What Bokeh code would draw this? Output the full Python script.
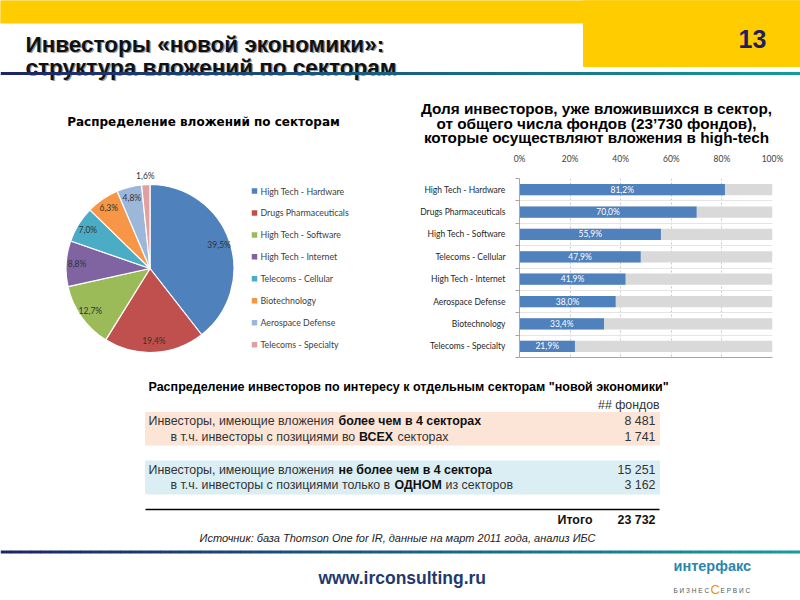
import math
from bokeh.plotting import figure
from bokeh.layouts import column, row
from bokeh.models import (Range1d, FixedTicker, LinearAxis, PrintfTickFormatter,
                          LabelSet, ColumnDataSource)
from bokeh.core.properties import value
from bokeh.embed import file_html
from bokeh.resources import INLINE

# ---------------- data ----------------
slide_title = ["Инвесторы «новой экономики»:", "структура вложений по секторам"]
slide_number = "13"

pie_title = "Распределение вложений по секторам"
pie_sectors = ["High Tech - Hardware", "Drugs Pharmaceuticals", "High Tech - Software",
               "High Tech - Internet", "Telecoms - Cellular", "Biotechnology",
               "Aerospace Defense", "Telecoms - Specialty"]
pie_shares = [39.5, 19.4, 12.7, 8.8, 7.0, 6.3, 4.8, 1.6]
pie_colors = ["#4F81BD", "#C0504D", "#9BBB59", "#8064A2", "#4BACC6", "#F79646",
              "#9DB7DB", "#E0A09E"]

bar_title = ["Доля инвесторов, уже вложившихся в сектор,",
             "от общего числа фондов (23’730 фондов),",
             "которые осуществляют вложения в high-tech"]
bar_sectors = ["High Tech - Hardware", "Drugs Pharmaceuticals", "High Tech - Software",
               "Telecoms - Cellular", "High Tech - Internet", "Aerospace Defense",
               "Biotechnology", "Telecoms - Specialty"]
bar_values = [81.2, 70.0, 55.9, 47.9, 41.9, 38.0, 33.4, 21.9]
bar_ticks = [0, 20, 40, 60, 80, 100]

table_title = 'Распределение инвесторов по интересу к отдельным секторам "новой экономики"'
table_unit = "## фондов"
row_plain = ["Инвесторы, имеющие вложения", "в т.ч. инвесторы с позициями во",
             "Инвесторы, имеющие вложения", "в т.ч. инвесторы с позициями только в"]
row_bold = ["более чем в 4 секторах", "ВСЕХ", "не более чем в 4 сектора", "ОДНОМ"]
row_tail = ["", "секторах", "", "из секторов"]
row_values = ["8 481", "1 741", "15 251", "3 162"]
total_label = "Итого"
total_value = "23 732"
source_note = "Источник: база Thomson One for IR, данные на март 2011 года, анализ ИБС"
site_url = "www.irconsulting.ru"
logo_top = "интерфакс"
logo_bottom = ["Б И З Н Е С", "С", "Е Р В И С"]

# ---------------- helpers ----------------
ARIAL = "Liberation Sans"
CHART = "Lato"


def txt(p, x, y, s, size, color="#000000", style="normal", align="left",
        font=ARIAL, baseline="middle"):
    p.text(x=[x], y=[y], text=[s], text_font=value(font),
           text_font_size=f"{size}px", text_font_style=style, text_color=color,
           text_align=align, text_baseline=baseline)


def hex2rgb(h):
    h = h.lstrip("#")
    return tuple(int(h[i:i + 2], 16) for i in (0, 2, 4))


def grad_rule(p, x0, x1, y, c0, c1, w=3, n=80):
    a, b = hex2rgb(c0), hex2rgb(c1)
    xs0, xs1, cols = [], [], []
    for k in range(n):
        t = k / (n - 1)
        xs0.append(x0 + (x1 - x0) * k / n)
        xs1.append(x0 + (x1 - x0) * (k + 1) / n + 0.6)
        cols.append("#%02x%02x%02x" % tuple(int(a[j] + (b[j] - a[j]) * t) for j in range(3)))
    p.segment(x0=xs0, x1=xs1, y0=[y] * n, y1=[y] * n, line_color=cols, line_width=w)


def blank(width, height, xr, yr):
    f = figure(width=width, height=height, x_range=xr, y_range=yr,
               output_backend="svg", toolbar_location=None, min_border=0,
               x_axis_location=None, y_axis_location=None,
               outline_line_color=None, background_fill_color="white",
               border_fill_color="white")
    f.grid.visible = False
    f.frame_align = False
    return f


# ---------------- header (page y 0..150) ----------------
hdr = blank(800, 150, Range1d(0, 800), Range1d(150, 0))
hdr.quad(left=0, right=800, top=0, bottom=22.5, color="#FFCC00")
hdr.quad(left=583, right=800, top=0, bottom=66, color="#FFCC00")
for i, s in enumerate(slide_title):
    yy = 44 + 23 * i
    txt(hdr, 26.3, yy + 1.3, s, 22.5, color="#9A9A9A", style="bold")
    txt(hdr, 25, yy, s, 22.5, color="#111111", style="bold")
grad_rule(hdr, 0, 800, 73, "#1D2566", "#169C9C", w=3)
txt(hdr, 752, 38, slide_number, 25, color="#1F1F66", style="bold", align="center")
txt(hdr, 203, 121, pie_title, 12, color="#000000", style="bold", align="center",
    font="DejaVu Sans")
for i, s in enumerate(bar_title):
    txt(hdr, 596, 108 + 14.5 * i, s, 15.3, color="#000000", style="bold", align="center")

# ---------------- middle row (page y 150..372) ----------------
# pie (page x 0..400), frame covers the whole figure
CX, CY, R = 149.5, 268.0, 84.0
pie = blank(400, 222, Range1d(0 - CX, 400 - CX), Range1d(CY - 372, CY - 150))
total = sum(pie_shares)
starts, ends, mids = [], [], []
cum = 0.0
for s in pie_shares:
    a0 = math.pi / 2 - 2 * math.pi * cum / total
    cum += s
    a1 = math.pi / 2 - 2 * math.pi * cum / total
    starts.append(a0)
    ends.append(a1)
    mids.append((a0 + a1) / 2)
pie.wedge(x=0, y=0, radius=R, start_angle=starts, end_angle=ends, direction="clock",
          fill_color=pie_colors, line_color="white", line_width=1.2)
lab_r = [R * (0.87 if s > 3 else 1.1) for s in pie_shares]
lab_src = ColumnDataSource(dict(
    x=[r * math.cos(m) for r, m in zip(lab_r, mids)],
    y=[r * math.sin(m) for r, m in zip(lab_r, mids)],
    t=[f"{s:.1f}".replace(".", ",") + "%" for s in pie_shares]))
pie.add_layout(LabelSet(x="x", y="y", text="t", source=lab_src,
                        text_font=value(CHART), text_font_size=value("8.5px"),
                        text_color="#333333", text_align="center",
                        text_baseline="middle"))
leg_y = [CY - (190.5 + 21.95 * i) for i in range(len(pie_sectors))]
pie.scatter(x=[254 - CX] * len(pie_sectors), y=leg_y, marker="square", size=5.5,
            fill_color=pie_colors, line_color=None)
pie.text(x=[260 - CX] * len(pie_sectors), y=leg_y, text=pie_sectors,
         text_font=value(CHART), text_font_size="8.8px", text_color="#404040",
         text_align="left", text_baseline="middle")

# bars (page x 400..800), frame page y 177..357, x 519..772
n = len(bar_sectors)
bar = figure(width=400, height=222, x_range=Range1d(0, 100), y_range=Range1d(n, 0),
             x_axis_location="above", y_axis_location=None, output_backend="svg",
             toolbar_location=None, min_border_left=119, min_border_right=28,
             min_border_top=27, min_border_bottom=15, outline_line_color=None,
             background_fill_color="white", border_fill_color="white")
bar.frame_align = False
ycent = [i + 0.5 for i in range(n)]
xa = bar.xaxis[0]
xa.ticker = FixedTicker(ticks=bar_ticks)
xa.formatter = PrintfTickFormatter(format="%d%%")
xa.axis_line_color = None
xa.major_tick_line_color = None
xa.minor_tick_line_color = None
xa.major_label_text_font = CHART
xa.major_label_text_font_size = "8.5px"
xa.major_label_text_color = "#404040"
xa.major_label_standoff = 9
bar.xgrid.grid_line_dash = "2 2"
bar.xgrid.grid_line_color = "#C8C8C8"

ya = LinearAxis(ticker=FixedTicker(ticks=ycent, minor_ticks=list(range(n + 1))),
                major_label_overrides={c: s for c, s in zip(ycent, bar_sectors)},
                axis_line_color="#A6A6A6", major_tick_line_color=None,
                minor_tick_line_color="#A6A6A6", minor_tick_in=0, minor_tick_out=4,
                major_label_text_font=CHART, major_label_text_font_size="8.5px",
                major_label_text_color="#262626", major_label_standoff=8)
bar.add_layout(ya, "left")
bl = LinearAxis(ticker=FixedTicker(ticks=[]), axis_line_color="#A6A6A6",
                major_tick_line_color=None, minor_tick_line_color=None,
                major_label_text_font_size="0px")
bar.add_layout(bl, "below")

bar.hbar(y=ycent, left=0, right=100, height=0.5, fill_color="#D9D9D9", line_color=None)
bar.hbar(y=ycent, left=0, right=bar_values, height=0.5, fill_color="#4F81BD", line_color=None)
bar.text(x=[v / 2 for v in bar_values], y=ycent,
         text=[f"{v:.1f}".replace(".", ",") + "%" for v in bar_values],
         text_font=value(CHART), text_font_size="8.5px", text_color="white",
         text_align="center", text_baseline="middle")

# ---------------- bottom (page y 372..600) ----------------
bot = blank(800, 228, Range1d(0, 800), Range1d(600, 372))
txt(bot, 148, 386, table_title, 12.5, style="bold")
txt(bot, 659, 404, table_unit, 12.3, color="#333333", align="right")
bot.quad(left=145, right=659, top=412, bottom=444.5, color="#FCE4D6")
bot.quad(left=145, right=659, top=460.5, bottom=493.5, color="#DAEEF3")
FS = 12.4
row_y = [420, 436, 469, 484]
row_x = [148, 170, 148, 170]
bold_x = [338, 358.5, 338, 394]
tail_x = [0, 397, 0, 445]
for i in range(4):
    txt(bot, row_x[i], row_y[i], row_plain[i], FS, color="#333333")
    txt(bot, bold_x[i], row_y[i], row_bold[i], FS, color="#111111", style="bold")
    if row_tail[i]:
        txt(bot, tail_x[i], row_y[i], row_tail[i], FS, color="#333333")
    txt(bot, 655, row_y[i], row_values[i], FS, color="#333333", align="right")
bot.segment(x0=[145], x1=[659], y0=[509], y1=[509], line_color="#000000", line_width=1.5)
txt(bot, 592, 519, total_label, FS, color="#111111", style="bold", align="right")
txt(bot, 655, 519, total_value, FS, color="#111111", style="bold", align="right")
txt(bot, 397, 537, source_note, 11, color="#222222", style="italic", align="center")
grad_rule(bot, 0, 800, 551.5, "#1D2566", "#169C9C", w=3)
txt(bot, 318, 577, site_url, 17.5, color="#1F3A6E", style="bold")
txt(bot, 673, 565, logo_top, 14.5, color="#2B86AE", style="bold")
txt(bot, 673, 590, logo_bottom[0], 6.5, color="#555555")
txt(bot, 710, 589, logo_bottom[1], 13, color="#F39200")
txt(bot, 720, 590, logo_bottom[2], 6.5, color="#555555")

layout = column(hdr, row(pie, bar, spacing=0), bot, spacing=0)
open("out.html", "w").write(file_html(layout, INLINE))
